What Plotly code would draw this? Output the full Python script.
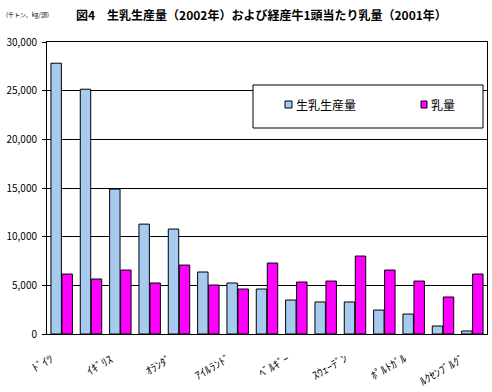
import plotly.graph_objects as go

countries = ["ﾄﾞｲﾂ", "ﾌﾗﾝｽ", "ｲｷﾞﾘｽ", "ｲﾀﾘｱ", "ｵﾗﾝﾀﾞ", "ｽﾍﾟｲﾝ", "ｱｲﾙﾗﾝﾄﾞ",
             "ﾃﾞﾝﾏｰｸ", "ﾍﾞﾙｷﾞｰ", "ｵｰｽﾄﾘｱ", "ｽｳｪｰﾃﾞﾝ", "ﾌｨﾝﾗﾝﾄﾞ", "ﾎﾟﾙﾄｶﾞﾙ",
             "ｷﾞﾘｼｬ", "ﾙｸｾﾝﾌﾞﾙｸﾞ"]
production = [27820, 25150, 14890, 11290, 10780, 6370, 5240, 4620, 3490, 3290, 3290, 2460, 2050, 820, 310]
milk_yield = [6160, 5650, 6570, 5240, 7080, 5030, 4620, 7290, 5340, 5440, 8010, 6570, 5440, 3800, 6160]
shown_labels = ["ﾄﾞｲﾂ", "ｲｷﾞﾘｽ", "ｵﾗﾝﾀﾞ", "ｱｲﾙﾗﾝﾄﾞ", "ﾍﾞﾙｷﾞｰ", "ｽｳｪｰﾃﾞﾝ", "ﾎﾟﾙﾄｶﾞﾙ", "ﾙｸｾﾝﾌﾞﾙｸﾞ"]
y_ticks = [0, 5000, 10000, 15000, 20000, 25000, 30000]

FONT = "Noto Sans CJK JP"
L, R, T, B = 47, 487, 42, 334
W, H = R - L, B - T


def px(x):
    return (x - L) / W


def py(y):
    return (B - y) / H


fig = go.Figure()
fig.add_trace(go.Bar(x=countries, y=production, name="生乳生産量",
                     marker=dict(color="#A6CAF0", line=dict(color="black", width=1))))
fig.add_trace(go.Bar(x=countries, y=milk_yield, name="乳量",
                     marker=dict(color="#FF00FF", line=dict(color="black", width=1))))

fig.update_layout(
    width=492, height=392,
    margin=dict(l=L, r=492 - R, t=T, b=392 - B, autoexpand=False),
    paper_bgcolor="white", plot_bgcolor="white",
    barmode="group", bargap=0.25, bargroupgap=0.05,
    font=dict(family=FONT, size=11, color="black"),
    showlegend=False,
    xaxis=dict(range=[-0.5, len(countries) - 0.5], showticklabels=False, ticks="",
               showline=True, linecolor="black", linewidth=1, mirror=True, automargin=False),
    yaxis=dict(range=[0, 30000], tickvals=y_ticks, tickformat=",", ticks="outside",
               ticklen=4, tickcolor="black", showline=True, linecolor="black", linewidth=1,
               mirror=True, showgrid=True, gridcolor="black", gridwidth=1,
               ticklabelstandoff=3, tickfont=dict(size=10), automargin=False),
)

# rotated category labels
for lab in shown_labels:
    fig.add_annotation(x=lab, xref="x", yref="paper", y=py(347), text=lab, showarrow=False,
                       textangle=-30, xanchor="right", yanchor="top", xshift=-2,
                       font=dict(size=11))

# legend box
fig.add_shape(type="rect", xref="paper", yref="paper", x0=px(253), x1=px(483),
              y0=py(128), y1=py(85), line=dict(color="black", width=1),
              fillcolor="white", layer="above")
fig.add_shape(type="rect", xref="paper", yref="paper", x0=px(285), x1=px(292),
              y0=py(108), y1=py(101), line=dict(color="black", width=1),
              fillcolor="#A6CAF0", layer="above")
fig.add_shape(type="rect", xref="paper", yref="paper", x0=px(421), x1=px(427),
              y0=py(108), y1=py(101), line=dict(color="black", width=1),
              fillcolor="#FF00FF", layer="above")
fig.add_annotation(xref="paper", yref="paper", x=px(294), y=py(104.5),
                   text="生乳生産量", showarrow=False, xanchor="left", yanchor="middle",
                   font=dict(size=12))
fig.add_annotation(xref="paper", yref="paper", x=px(429), y=py(104.5),
                   text="乳量", showarrow=False, xanchor="left", yanchor="middle",
                   font=dict(size=12))

# title and units
fig.add_annotation(xref="paper", yref="paper", x=px(74), y=py(15),
                   text="<b>図4　生乳生産量（2002年）および経産牛1頭当たり乳量（2001年）</b>",
                   showarrow=False, xanchor="left", yanchor="middle", font=dict(size=12))
fig.add_annotation(xref="paper", yref="paper", x=px(4), y=py(15),
                   text="(千トン、kg/頭)", showarrow=False, xanchor="left", yanchor="middle",
                   font=dict(size=6))

fig.write_html("out.html", config={"displayModeBar": False},
               post_script="document.body.style.margin='0';")
